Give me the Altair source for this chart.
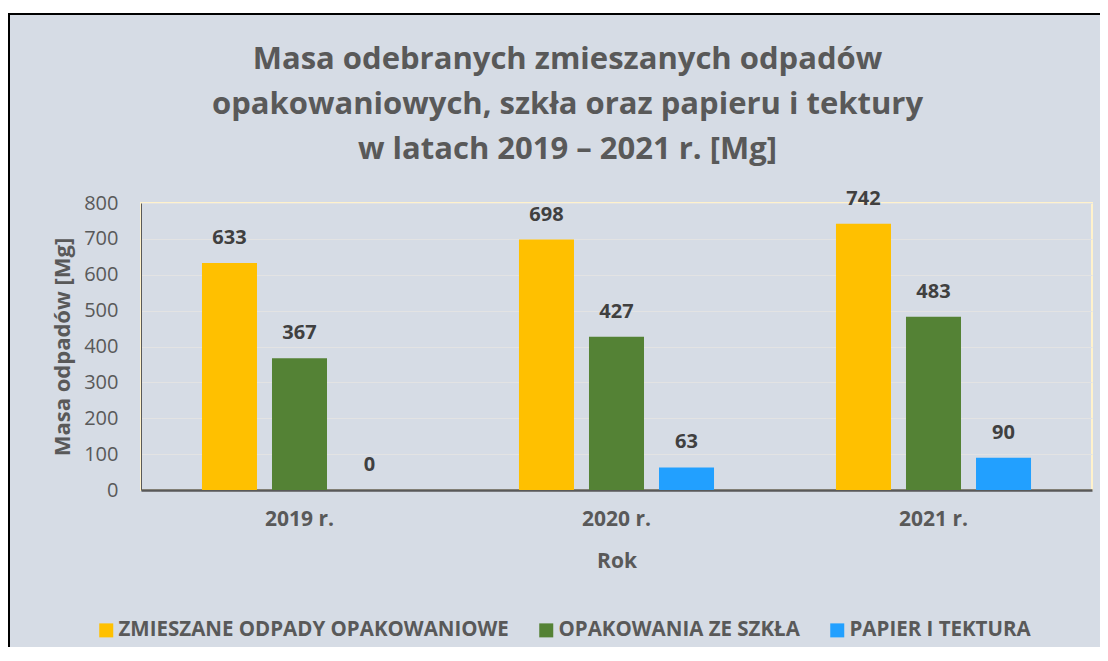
import altair as alt
import pandas as pd

years = ["2019 r.", "2020 r.", "2021 r."]
series = ["ZMIESZANE ODPADY OPAKOWANIOWE", "OPAKOWANIA ZE SZKŁA", "PAPIER I TEKTURA"]
zmieszane = [633, 698, 742]
szklo = [367, 427, 483]
papier = [0, 63, 90]
colors = ["#FFC000", "#548235", "#22A0FF"]
y_ticks = [0, 100, 200, 300, 400, 500, 600, 700, 800]
title_lines = ["Masa odebranych zmieszanych odpadów",
               "opakowaniowych, szkła oraz papieru i tektury",
               "w latach 2019 – 2021 r. [Mg]"]

rows = []
for s, vals in zip(series, [zmieszane, szklo, papier]):
    for yr, v in zip(years, vals):
        rows.append({"Rok": yr, "Seria": s, "Wartosc": v})
df = pd.DataFrame(rows)

FONT = "Open Sans"
GREY = "#595959"

x_enc = alt.X("Rok:N", sort=years,
              scale=alt.Scale(paddingInner=0, paddingOuter=0),
              axis=alt.Axis(title="Rok", labelAngle=0, labelFontSize=21, labelFontWeight="bold",
                            labelColor=GREY, titleFontSize=21, titleFontWeight="bold",
                            titleColor=GREY, labelPadding=18, titlePadding=21, ticks=False,
                            domainColor=GREY, domainWidth=2.5, grid=False,
                            labelFont=FONT, titleFont=FONT))
xoff = alt.XOffset("Seria:N", sort=series,
                   scale=alt.Scale(paddingInner=0.2143, paddingOuter=0.871))
y_scale = alt.Scale(domain=[0, 800], nice=False)
y_enc = alt.Y("Wartosc:Q", scale=y_scale,
              axis=alt.Axis(title="Masa odpadów [Mg]", values=y_ticks, tickCount=12,
                            labelOverlap=False, labelFontSize=20,
                            labelColor=GREY, titleFontSize=22, titleFontWeight="bold",
                            titleColor=GREY, labelPadding=23, titlePadding=9, ticks=False,
                            domainColor=GREY, domainWidth=1, grid=True,
                            gridColor="#E3E3E3", gridWidth=1.2,
                            labelFont=FONT, titleFont=FONT))

bars = alt.Chart(df).mark_bar().encode(
    x=x_enc, xOffset=xoff, y=y_enc,
    color=alt.Color("Seria:N", sort=series,
                    scale=alt.Scale(domain=series, range=colors),
                    legend=alt.Legend(title=None, orient="none", legendX=-45, legendY=417,
                                      direction="horizontal", symbolType="square",
                                      symbolSize=196, symbolStrokeWidth=0, labelOffset=2,
                                      columnPadding=27, labelFontSize=20.5, labelFontWeight="bold",
                                      labelColor=GREY, labelFont=FONT, labelLimit=0)),
)

labels = alt.Chart(df).mark_text(fontSize=20, fontWeight="bold", color="#404040",
                                 baseline="middle", dy=-25, font=FONT).encode(
    x=x_enc, xOffset=xoff, y=y_enc, text=alt.Text("Wartosc:Q"))

frame_df = pd.DataFrame({"k": [0]})
left_edge = alt.Chart(frame_df).mark_rule(color="black", strokeWidth=2).encode(
    x=alt.value(-132), y=alt.value(-189), y2=alt.value(1000))
top_edge = alt.Chart(frame_df).mark_rule(color="black", strokeWidth=2).encode(
    x=alt.value(-133), x2=alt.value(1100), y=alt.value(-189))
topstrip = alt.Chart(frame_df).mark_rect(fill="white", strokeWidth=0).encode(
    x=alt.value(-140), x2=alt.value(1100), y=alt.value(-195), y2=alt.value(-190))

chart = alt.layer(bars, labels, left_edge, top_edge, topstrip).properties(
    width=951, height=287,
    autosize=alt.AutoSizeParams(type="none"),
    padding={"left": 133, "top": 195, "right": 8, "bottom": 157},
    background="#D6DCE5",
    title=alt.TitleParams(text=title_lines, fontSize=31, fontWeight="bold", color=GREY,
                          font=FONT, lineHeight=45, anchor="middle", dx=-49, offset=0, dy=158),
).configure_view(stroke="#FFF2CC", strokeWidth=2)

chart.save("out.html", embed_options={"renderer": "svg", "actions": False})
